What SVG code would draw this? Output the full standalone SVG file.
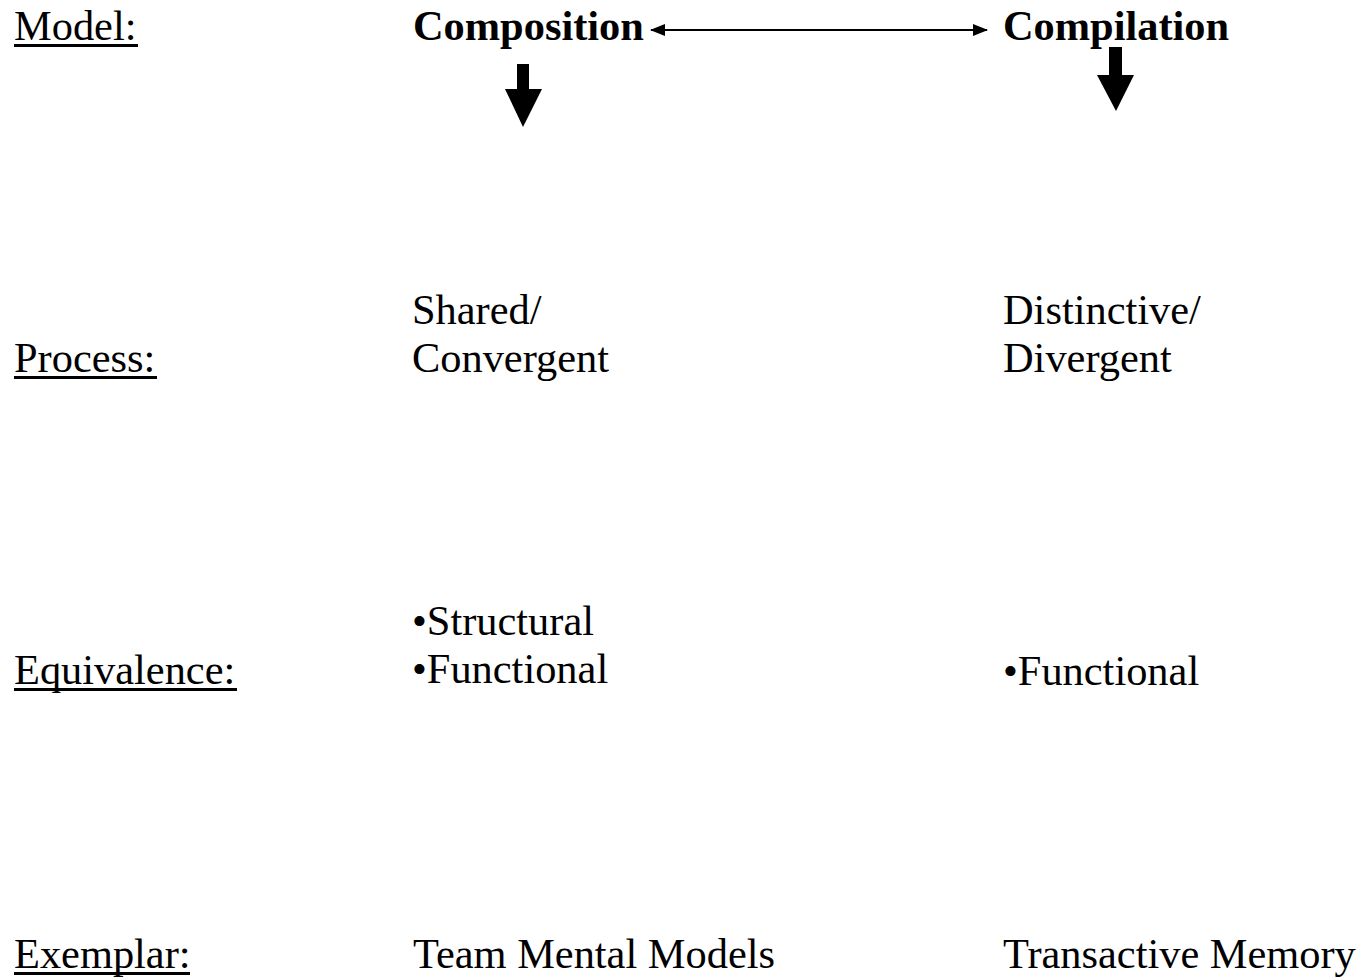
<svg xmlns="http://www.w3.org/2000/svg" width="1363" height="978" viewBox="0 0 1363 978">
<style>
text{font-family:"Liberation Serif","Times New Roman",serif;font-size:42.4px;fill:#000}
.b{font-weight:bold}
.ul{fill:#000}
.conn{stroke:#000;stroke-width:2;fill:none}
.blk{fill:#000}
</style>
<defs>
<marker id="ah" markerWidth="15" markerHeight="12" refX="14" refY="6" orient="auto-start-reverse" markerUnits="userSpaceOnUse">
<path d="M0,0 L15,6 L0,12 Z" fill="#000"/>
</marker>
</defs>
<rect width="1363" height="978" fill="#fff"/>
<g id="labels">
<text x="14" y="40">Model:</text>
<rect class="ul" x="14" y="44" width="124" height="3"/>
<text x="14" y="372">Process:</text>
<rect class="ul" x="14" y="376" width="143" height="3"/>
<text x="14" y="684">Equivalence:</text>
<rect class="ul" x="14" y="688" width="223" height="3"/>
<text x="14" y="968">Exemplar:</text>
<rect class="ul" x="14" y="972" width="176" height="3"/>
</g>
<g id="composition"><text class="b" x="413" y="40">Composition</text></g>
<g id="compilation"><text class="b" x="1003" y="40">Compilation</text></g>
<g id="shared"><text x="412" y="324">Shared/</text><text x="412" y="372">Convergent</text></g>
<g id="distinctive"><text x="1003" y="324">Distinctive/</text><text x="1003" y="372">Divergent</text></g>
<g id="equiv-left"><text x="412" y="635">•Structural</text><text x="412" y="683">•Functional</text></g>
<g id="equiv-right"><text x="1003" y="685">•Functional</text></g>
<g id="exemplar-left"><text x="413" y="968">Team Mental Models</text></g>
<g id="exemplar-right"><text x="1003" y="968">Transactive Memory</text></g>
<g id="connectors">
<line class="conn" x1="651" y1="30" x2="987" y2="30" marker-start="url(#ah)" marker-end="url(#ah)"/>
<path class="blk" d="M517,64 L529,64 L529,89 L542,89 L523,127 L505,89 L517,89 Z"/>
<path class="blk" d="M1109,47 L1122,47 L1122,75 L1134,75 L1116,111 L1097,75 L1109,75 Z"/>
</g>
</svg>
